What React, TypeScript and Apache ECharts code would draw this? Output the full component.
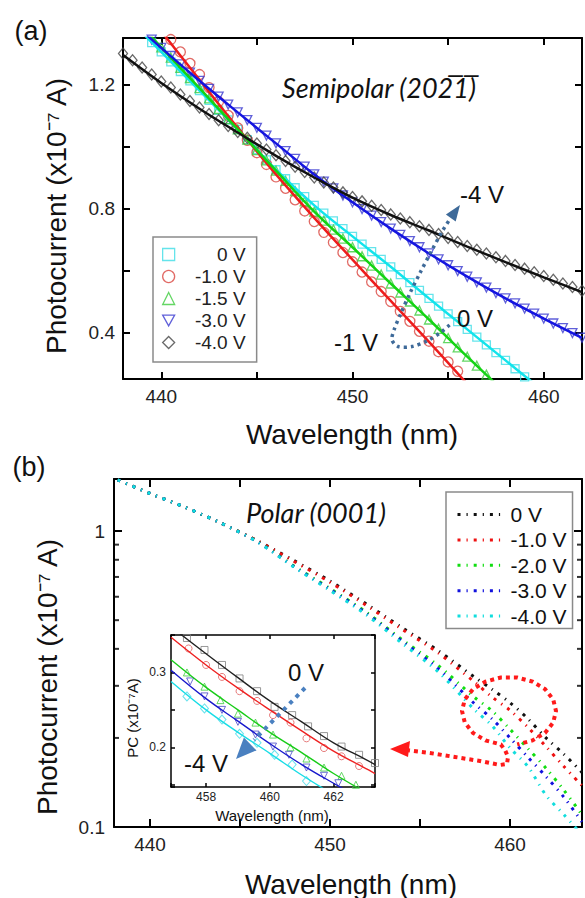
import React, { useEffect, useRef } from 'react';
import * as echarts from 'echarts';

const FONT = "'Liberation Sans', Arial, Helvetica, sans-serif";
const IFONT = "Lato, 'Open Sans', sans-serif";

// ---------------- Panel (a): Semipolar ----------------
const aNames = ['0 V', '-1.0 V', '-1.5 V', '-3.0 V', '-4.0 V'];
const aXTickLabels = ['440', '450', '460'];
const aYTickLabels = ['0.4', '0.8', '1.2'];

// measured points (markers)
const aWl0 = [439.5, 440, 440.5, 441, 441.5, 442, 442.5, 443, 443.5, 444, 444.5, 445, 445.5, 446, 446.5, 447, 447.5, 448, 448.5, 449, 449.5, 450, 450.5, 451, 451.5, 452, 452.5, 453, 453.5, 454, 454.5, 455, 455.5, 456, 456.5, 457, 457.5, 458, 458.5, 459, 459.5];
const aPc0 = [1.335, 1.305, 1.273, 1.242, 1.212, 1.18, 1.149, 1.117, 1.086, 1.055, 1.022, 0.99, 0.957, 0.925, 0.896, 0.867, 0.838, 0.81, 0.785, 0.76, 0.735, 0.71, 0.685, 0.661, 0.636, 0.612, 0.587, 0.561, 0.536, 0.51, 0.485, 0.46, 0.435, 0.41, 0.385, 0.36, 0.335, 0.31, 0.283, 0.257, 0.238];
const aWl1 = [440.5, 441, 441.5, 442, 442.5, 443, 443.5, 444, 444.5, 445, 445.5, 446, 446.5, 447, 447.5, 448, 448.5, 449, 449.5, 450, 450.5, 451, 451.5, 452, 452.5, 453, 453.5, 454, 454.5, 455, 455.5];
const aPc1 = [1.345, 1.305, 1.268, 1.232, 1.19, 1.145, 1.1, 1.06, 1.02, 0.98, 0.942, 0.902, 0.865, 0.828, 0.792, 0.758, 0.723, 0.69, 0.658, 0.628, 0.595, 0.563, 0.532, 0.5, 0.468, 0.436, 0.404, 0.372, 0.338, 0.305, 0.275];
const aWl2 = [439.5, 440, 440.5, 441, 441.5, 442, 442.5, 443, 443.5, 444, 444.5, 445, 445.5, 446, 446.5, 447, 447.5, 448, 448.5, 449, 449.5, 450, 450.5, 451, 451.5, 452, 452.5, 453, 453.5, 454, 454.5, 455, 455.5, 456, 456.5, 457];
const aPc2 = [1.352, 1.32, 1.287, 1.254, 1.221, 1.188, 1.155, 1.121, 1.088, 1.055, 1.022, 0.988, 0.955, 0.922, 0.889, 0.856, 0.823, 0.79, 0.761, 0.732, 0.703, 0.675, 0.646, 0.616, 0.587, 0.558, 0.529, 0.5, 0.471, 0.442, 0.412, 0.382, 0.352, 0.322, 0.293, 0.264];
const aWl3 = [439.5, 440, 440.5, 441, 441.5, 442, 442.5, 443, 443.5, 444, 444.5, 445, 445.5, 446, 446.5, 447, 447.5, 448, 448.5, 449, 449.5, 450, 450.5, 451, 451.5, 452, 452.5, 453, 453.5, 454, 454.5, 455, 455.5, 456, 456.5, 457, 457.5, 458, 458.5, 459, 459.5, 460, 460.5, 461, 461.5, 462];
const aPc3 = [1.345, 1.318, 1.292, 1.265, 1.238, 1.212, 1.186, 1.161, 1.135, 1.11, 1.085, 1.06, 1.035, 1.01, 0.985, 0.96, 0.935, 0.91, 0.887, 0.865, 0.842, 0.82, 0.798, 0.777, 0.756, 0.735, 0.715, 0.695, 0.675, 0.655, 0.636, 0.617, 0.598, 0.58, 0.562, 0.545, 0.527, 0.51, 0.494, 0.477, 0.461, 0.445, 0.429, 0.414, 0.398, 0.383];
const aWl4 = [438, 438.5, 439, 439.5, 440, 440.5, 441, 441.5, 442, 442.5, 443, 443.5, 444, 444.5, 445, 445.5, 446, 446.5, 447, 447.5, 448, 448.5, 449, 449.5, 450, 450.5, 451, 451.5, 452, 452.5, 453, 453.5, 454, 454.5, 455, 455.5, 456, 456.5, 457, 457.5, 458, 458.5, 459, 459.5, 460, 460.5, 461, 461.5, 462];
const aPc4 = [1.3, 1.278, 1.255, 1.232, 1.21, 1.19, 1.168, 1.147, 1.126, 1.105, 1.085, 1.066, 1.047, 1.028, 1.01, 0.99, 0.972, 0.953, 0.935, 0.918, 0.9, 0.884, 0.868, 0.852, 0.837, 0.823, 0.809, 0.795, 0.781, 0.768, 0.756, 0.743, 0.731, 0.718, 0.705, 0.692, 0.679, 0.667, 0.655, 0.643, 0.631, 0.618, 0.606, 0.594, 0.582, 0.57, 0.558, 0.547, 0.535];

// fitted curves
const aFitWl = [438, 440, 442, 444, 446, 448, 450, 452, 454, 456, 458, 460, 462];
const aFit0 = [1.43, 1.305, 1.18, 1.055, 0.925, 0.81, 0.71, 0.612, 0.51, 0.41, 0.31, 0.21];
const aFit1 = [1.53, 1.372, 1.215, 1.06, 0.91, 0.77, 0.635, 0.502, 0.37, 0.234];
const aFit2 = [1.455, 1.32, 1.188, 1.055, 0.922, 0.79, 0.675, 0.558, 0.442, 0.322, 0.205];
const aFit3 = [1.43, 1.318, 1.212, 1.11, 1.01, 0.91, 0.82, 0.735, 0.655, 0.58, 0.51, 0.445, 0.383];
const aFit4 = [1.295, 1.205, 1.122, 1.045, 0.97, 0.9, 0.835, 0.779, 0.729, 0.677, 0.627, 0.578, 0.53];

// ---------------- Panel (b): Polar ----------------
const bNames = ['0 V', '-1.0 V', '-2.0 V', '-3.0 V', '-4.0 V'];
const bXTickLabels = ['440', '450', '460'];
const bYTickLabels = ['0.1', '1'];
const bMinorTicks = [0.2, 0.3, 0.4, 0.5, 0.6, 0.7, 0.8, 0.9];
const bWl = [438.2, 440, 442, 444, 446, 448, 450, 452, 454, 456, 458, 459, 460, 461, 462, 463, 464];
const b0 = [1.49, 1.34, 1.2, 1.06, 0.925, 0.795, 0.678, 0.568, 0.472, 0.395, 0.322, 0.292, 0.263, 0.232, 0.2, 0.176, 0.153];
const b1 = [1.49, 1.34, 1.2, 1.06, 0.925, 0.79, 0.672, 0.562, 0.466, 0.388, 0.31, 0.275, 0.248, 0.217, 0.187, 0.16, 0.138];
const b2 = [1.49, 1.34, 1.2, 1.06, 0.92, 0.762, 0.64, 0.533, 0.43, 0.352, 0.275, 0.247, 0.214, 0.184, 0.158, 0.133, 0.11];
const b3 = [1.49, 1.34, 1.2, 1.06, 0.918, 0.758, 0.635, 0.528, 0.425, 0.343, 0.262, 0.232, 0.2, 0.172, 0.148, 0.126, 0.104];
const b4 = [1.49, 1.34, 1.2, 1.06, 0.916, 0.755, 0.63, 0.522, 0.418, 0.335, 0.25, 0.22, 0.185, 0.16, 0.128, 0.11, 0.094];

// ---------------- Inset ----------------
const iXTickLabels = ['458', '460', '462'];
const iYTickLabels = ['0.2', '0.3'];
const iWl0 = [457.4, 457.95, 458.5, 459.05, 459.6, 460.15, 460.7, 461.2, 461.7, 462.25, 462.8, 463.3];
const iPc0 = [0.346, 0.33, 0.31, 0.292, 0.275, 0.254, 0.243, 0.228, 0.215, 0.201, 0.19, 0.179];
const iWl1 = [457.45, 458.0, 458.5, 459.05, 459.6, 460.1, 460.65, 461.15, 461.7, 462.25, 462.8];
const iPc1 = [0.332, 0.31, 0.294, 0.275, 0.262, 0.243, 0.233, 0.212, 0.199, 0.188, 0.175];
const iWl2 = [457.4, 457.95, 458.45, 459.0, 459.55, 460.1, 460.65, 461.15, 461.7, 462.25, 462.7];
const iPc2 = [0.3, 0.281, 0.263, 0.245, 0.233, 0.217, 0.2, 0.185, 0.173, 0.162, 0.15];
const iWl3 = [457.5, 457.95, 458.5, 459.0, 459.55, 460.1, 460.6, 461.15, 461.7, 462.15];
const iPc3 = [0.288, 0.268, 0.25, 0.234, 0.217, 0.201, 0.19, 0.173, 0.162, 0.152];
const iWl4 = [457.4, 457.95, 458.5, 459.05, 459.6, 460.15, 460.7, 461.15];
const iPc4 = [0.268, 0.252, 0.237, 0.218, 0.206, 0.19, 0.177, 0.155];
const iFitWl = [456.9, 458, 459, 460, 461, 462, 463, 463.3];
const iFit0 = [0.361, 0.325, 0.293, 0.262, 0.234, 0.206, 0.184, 0.177];
const iFit1 = [0.347, 0.31, 0.279, 0.25, 0.222, 0.195, 0.172, 0.165];
const iFit2 = [0.317, 0.28, 0.25, 0.22, 0.193, 0.165, 0.14, 0.133];
const iFit3 = [0.303, 0.265, 0.235, 0.205, 0.177, 0.152, 0.128, 0.122];
const iFit4 = [0.288, 0.25, 0.22, 0.192, 0.163, 0.137, 0.115, 0.11];

const zip = (xs: number[], ys: number[]) => {
  const n = Math.min(xs.length, ys.length);
  const out: number[][] = [];
  for (let i = 0; i < n; i++) out.push([xs[i], ys[i]]);
  return out;
};

const DOWN_TRI = 'path://M0,0L10,0L5,9Z';
const markSymbols = ['rect', 'circle', 'triangle', DOWN_TRI, 'diamond'];
const markSizes: any[] = [8, 10, 9, 9, [9, 11]];
const markColors = ['#3fdde6', '#d9453f', '#3dcc3d', '#3838d0', '#444444'];
const lineColorsA = ['#12e4ec', '#ee1c1c', '#14d414', '#1414e0', '#111111'];
const bColors = ['#111111', '#ee1111', '#11dd11', '#1111dd', '#11dddd'];
const iMarkColors = ['#808080', '#e05a5a', '#40cc40', '#4848c8', '#45dbe8'];
const iLineColors = ['#222222', '#ee2222', '#18cc18', '#1818cc', '#18dde6'];
const iSymbols = ['rect', 'circle', 'triangle', DOWN_TRI, 'diamond'];
const DASH = [3, 6, 1.2, 6];

function valAxis(o: any) {
  const { grid, pos, min, max, step, labels, fontSize = 19, margin = 8, tick = 7, lw = 2 } = o;
  return {
    type: 'value',
    gridIndex: grid,
    position: pos,
    min,
    max,
    splitNumber: 5,
    minInterval: step,
    maxInterval: step,
    axisLine: { show: true, onZero: false, lineStyle: { color: '#000', width: lw } },
    axisTick: { show: true, inside: true, length: tick, lineStyle: { color: '#000', width: lw } },
    axisLabel: labels
      ? {
          show: true,
          margin,
          fontSize,
          fontFamily: FONT,
          color: '#222',
          formatter: (v: number) => labels.find((l: string) => Math.abs(parseFloat(l) - v) < 1e-6) ?? '',
        }
      : { show: false },
    splitLine: { show: false },
  };
}

function logAxis(pos: string, labels: string[] | null) {
  return {
    type: 'log',
    logBase: 10,
    gridIndex: 1,
    position: pos,
    min: 0.1,
    max: 1.5,
    axisLine: { show: true, onZero: false, lineStyle: { color: '#000', width: 2 } },
    axisTick: { show: true, inside: true, length: 8, lineStyle: { color: '#000', width: 2 } },
    axisLabel: labels
      ? {
          show: true,
          margin: 9,
          fontSize: 19,
          fontFamily: FONT,
          color: '#222',
          formatter: (v: number) => labels.find((l) => Math.abs(parseFloat(l) - v) < 1e-6) ?? '',
        }
      : { show: false },
    splitLine: { show: false },
  };
}

const text = (x: number, y: number, t: string, size: number, extra: any = {}) => ({
  type: 'text',
  x,
  y,
  z: 100,
  rotation: extra.rotation || 0,
  style: {
    text: t,
    fontSize: size,
    fontFamily: extra.fontFamily || FONT,
    fontStyle: extra.fontStyle || 'normal',
    fill: extra.fill || '#111',
    align: 'center',
    verticalAlign: 'middle',
  },
});

export default function App() {
  const ref = useRef<HTMLDivElement>(null);
  useEffect(() => {
    if (!ref.current) return;
    const chart = echarts.init(ref.current, undefined, { renderer: 'svg' });

    const aFits = [aFit0, aFit1, aFit2, aFit3, aFit4];
    const aWls = [aWl0, aWl1, aWl2, aWl3, aWl4];
    const aPcs = [aPc0, aPc1, aPc2, aPc3, aPc4];
    const bVals = [b0, b1, b2, b3, b4];
    const iWls = [iWl0, iWl1, iWl2, iWl3, iWl4];
    const iPcs = [iPc0, iPc1, iPc2, iPc3, iPc4];
    const iFits = [iFit0, iFit1, iFit2, iFit3, iFit4];

    const series: any[] = [];
    aNames.forEach((n, i) => {
      series.push({
        type: 'scatter',
        name: n,
        xAxisIndex: 0,
        yAxisIndex: 0,
        data: zip(aWls[i], aPcs[i]),
        symbol: markSymbols[i],
        symbolSize: markSizes[i],
        itemStyle: { color: 'rgba(0,0,0,0)', borderColor: markColors[i], borderWidth: 1.3 },
        z: 2,
        silent: true,
      });
    });
    aNames.forEach((n, i) => {
      series.push({
        type: 'line',
        name: 'fit ' + n,
        xAxisIndex: 0,
        yAxisIndex: 0,
        data: zip(aFitWl, aFits[i]),
        symbol: 'none',
        smooth: 0.4,
        lineStyle: { color: lineColorsA[i], width: 2.5 },
        z: 3,
        silent: true,
      });
    });
    bNames.forEach((n, i) => {
      series.push({
        type: 'line',
        name: 'b: ' + n,
        xAxisIndex: 2,
        yAxisIndex: 2,
        data: zip(bWl, bVals[i]),
        symbol: 'none',
        smooth: 0.3,
        lineStyle: { color: bColors[i], width: 3, type: DASH },
        z: 3,
        silent: true,
      });
    });
    for (let i = 0; i < 5; i++) {
      series.push({
        type: 'scatter',
        name: 'inset m' + i,
        xAxisIndex: 4,
        yAxisIndex: 4,
        data: zip(iWls[i], iPcs[i]),
        symbol: iSymbols[i],
        symbolSize: i === 4 ? [8, 9] : 7,
        itemStyle: { color: 'rgba(0,0,0,0)', borderColor: iMarkColors[i], borderWidth: 1 },
        z: 4,
        silent: true,
      });
      series.push({
        type: 'line',
        name: 'inset f' + i,
        xAxisIndex: 4,
        yAxisIndex: 4,
        data: zip(iFitWl, iFits[i]),
        symbol: 'none',
        smooth: 0.4,
        lineStyle: { color: iLineColors[i], width: 1.4 },
        z: 5,
        silent: true,
      });
    }
    series.push({
      type: 'scatter',
      name: 'minor left',
      xAxisIndex: 2,
      yAxisIndex: 2,
      data: bMinorTicks.map((v) => [438, v]),
      symbol: 'rect',
      symbolSize: [5, 2],
      symbolOffset: [2.5, 0],
      itemStyle: { color: '#000' },
      clip: false,
      silent: true,
      z: 6,
    });
    series.push({
      type: 'scatter',
      name: 'minor right',
      xAxisIndex: 2,
      yAxisIndex: 2,
      data: bMinorTicks.map((v) => [464, v]),
      symbol: 'rect',
      symbolSize: [5, 2],
      symbolOffset: [-2.5, 0],
      itemStyle: { color: '#000' },
      clip: false,
      silent: true,
      z: 6,
    });

    const aArrow = [
      [449.6, 325], [440, 333], [427, 341], [412, 346.5], [398, 346.5], [392, 340], [394, 330],
      [401, 313], [410, 293], [420, 273], [432, 250], [443, 230], [450, 219],
    ];
    const lasso = [
      [406, 750], [430, 753], [455, 757], [480, 761], [500, 765], [507, 764], [508, 757], [505, 750],
      [500.8, 744.5], [485.5, 740.4], [473, 732.9], [464.8, 722.6], [462, 711], [464.8, 699.4],
      [473, 689.1], [485.5, 681.6], [500.8, 677.5], [517.2, 677.5], [532.5, 681.6], [545, 689.1],
      [553.2, 699.4], [556, 711], [553.2, 722.6], [545, 732.9], [532.5, 740.4], [517.2, 744.5],
    ];

    const graphic: any[] = [
      text(31, 31, '(a)', 27),
      text(29, 467, '(b)', 27),
      text(56, 216, 'Photocurrent (x10\u207B\u2077 A)', 28, { rotation: Math.PI / 2 }),
      text(47, 677, 'Photocurrent (x10\u207B\u2077 A)', 28, { rotation: Math.PI / 2 }),
      text(352, 434, 'Wavelength (nm)', 28),
      text(351, 884, 'Wavelength (nm)', 28),
      text(379, 87, 'Semipolar (202\u03051\u0305)', 27, { fontStyle: 'italic', fontFamily: IFONT }),
      text(316, 512, 'Polar (0001)', 27, { fontStyle: 'italic', fontFamily: IFONT }),
      text(482, 194, '-4 V', 24),
      text(475, 318, '0 V', 24),
      text(356, 342, '-1 V', 24),
      text(306, 672, '0 V', 24),
      text(206, 763, '-4 V', 24),
      text(272, 815, 'Wavelength (nm)', 15),
      text(132, 718, 'PC (x10\u207B\u2077A)', 15, { rotation: Math.PI / 2 }),
      {
        type: 'polyline',
        z: 90,
        shape: { points: aArrow, smooth: 0.3 },
        style: { stroke: '#3e6a99', lineWidth: 3.5, lineDash: [3, 4], fill: null },
      },
      {
        type: 'polygon',
        z: 90,
        shape: { points: [[460, 205], [455.7, 221.5], [445.9, 214.6]] },
        style: { fill: '#3e6a99' },
      },
      {
        type: 'polyline',
        z: 90,
        shape: { points: [[305, 688], [254, 740]] },
        style: { stroke: '#4a80c0', lineWidth: 4, lineDash: [4, 5], fill: null },
      },
      {
        type: 'polygon',
        z: 90,
        shape: { points: [[236, 759], [256.5, 750.4], [243.9, 737.6]] },
        style: { fill: '#4a80c0' },
      },
      {
        type: 'polyline',
        z: 90,
        shape: { points: lasso },
        style: { stroke: '#ff1a1a', lineWidth: 4, lineDash: [4, 4], fill: null },
      },
      {
        type: 'polygon',
        z: 90,
        shape: { points: [[390, 749], [410, 741], [408, 757]] },
        style: { fill: '#ff1a1a' },
      },
    ];

    const option: any = {
      animation: false,
      backgroundColor: '#fff',
      textStyle: { fontFamily: FONT },
      grid: [
        { left: 123, top: 38, width: 461, height: 341, show: false },
        { left: 114, top: 479, width: 470, height: 348, show: false },
        { left: 171, top: 635, width: 204, height: 152, show: true, backgroundColor: '#fff', borderWidth: 0 },
      ],
      xAxis: [
        valAxis({ grid: 0, pos: 'bottom', min: 438, max: 462, step: 5, labels: aXTickLabels }),
        valAxis({ grid: 0, pos: 'top', min: 438, max: 462, step: 5 }),
        valAxis({ grid: 1, pos: 'bottom', min: 438, max: 464, step: 5, labels: bXTickLabels, tick: 8 }),
        valAxis({ grid: 1, pos: 'top', min: 438, max: 464, step: 5, tick: 8 }),
        valAxis({ grid: 2, pos: 'bottom', min: 456.9, max: 463.3, step: 2, labels: iXTickLabels, fontSize: 12, margin: 4, tick: 4, lw: 1.5 }),
        valAxis({ grid: 2, pos: 'top', min: 456.9, max: 463.3, step: 2, tick: 4, lw: 1.5 }),
      ],
      yAxis: [
        valAxis({ grid: 0, pos: 'left', min: 0.25, max: 1.35, step: 0.2, labels: aYTickLabels }),
        valAxis({ grid: 0, pos: 'right', min: 0.25, max: 1.35, step: 0.2 }),
        logAxis('left', bYTickLabels),
        logAxis('right', null),
        valAxis({ grid: 2, pos: 'left', min: 0.147, max: 0.35, step: 0.05, labels: iYTickLabels, fontSize: 12, margin: 5, tick: 4, lw: 1.5 }),
        valAxis({ grid: 2, pos: 'right', min: 0.147, max: 0.35, step: 0.05, tick: 4, lw: 1.5 }),
      ],
      legend: [
        {
          left: 153,
          top: 237,
          orient: 'vertical',
          padding: [8, 11, 10, 9],
          itemGap: 3,
          itemWidth: 12,
          itemHeight: 12,
          borderColor: '#8a8a8a',
          borderWidth: 1.5,
          backgroundColor: '#fff',
          selectedMode: false,
          data: aNames.map((n, i) => ({
            name: n,
            icon: markSymbols[i],
            itemStyle: { color: 'rgba(0,0,0,0)', borderColor: markColors[i], borderWidth: 1.3 },
          })),
          formatter: (n: string) => `{t|${n}}`,
          textStyle: {
            fontSize: 19,
            fontFamily: FONT,
            color: '#222',
            rich: { t: { width: 66, align: 'right', fontSize: 19, fontFamily: FONT, color: '#222' } },
          },
        },
        {
          left: 446,
          top: 492,
          orient: 'vertical',
          padding: [12, 6, 2, 10],
          itemGap: 4.4,
          itemWidth: 48,
          itemHeight: 14,
          borderColor: '#8a8a8a',
          borderWidth: 1.5,
          backgroundColor: '#fff',
          selectedMode: false,
          data: bNames.map((n, i) => ({
            name: 'b: ' + n,
            itemStyle: { opacity: 0 },
            lineStyle: { color: bColors[i], width: 3, type: DASH },
          })),
          formatter: (n: string) => n.replace('b: ', ''),
          textStyle: { fontSize: 21, fontFamily: FONT, color: '#111' },
        },
      ],
      series,
      graphic,
    };
    chart.setOption(option);
    return () => chart.dispose();
  }, []);
  return (
    <div
      ref={ref}
      style={{ position: 'absolute', left: 0, top: 0, width: 585, height: 898, background: '#fff' }}
    />
  );
}
